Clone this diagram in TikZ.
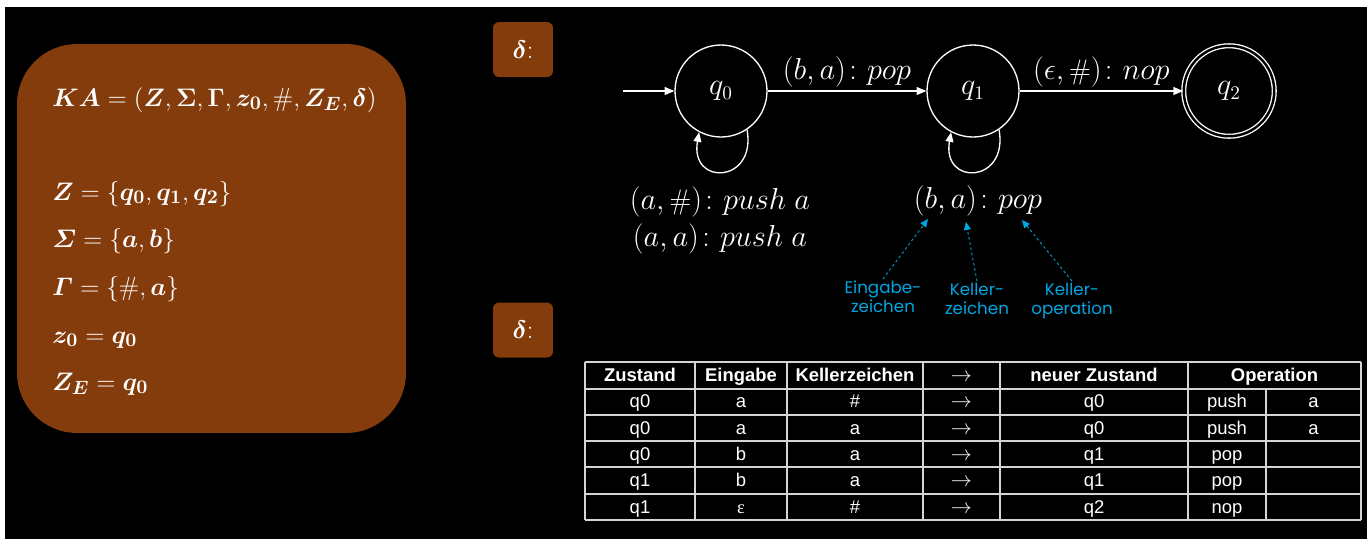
\documentclass[tikz,border=0pt]{standalone}
\usepackage{amsmath,amssymb}
\usepackage{bm}
\usepackage{xcolor}
\definecolor{kabrown}{HTML}{843C0C}
\definecolor{kablue}{HTML}{00A6E2}
\definecolor{kagrid}{HTML}{D4D4D4}
\usepackage{fontspec}
\newfontfamily\tabfont{Liberation Sans}
\newfontfamily\tabserif{Liberation Serif}
\newfontfamily\notefont{Poppins}
\usepackage{tikz}
\usetikzlibrary{arrows.meta,positioning,calc}

\begin{document}
\begin{tikzpicture}[x=0.02cm,y=0.02cm,
  state/.style={draw=white,circle,line width=0.75pt,minimum size=1.84cm,inner sep=0pt,text=white,font=\fontsize{16}{18}\selectfont},
  final/.style={state,double=black,double distance=1.4pt,minimum size=1.81cm},
  trans/.style={draw=white,line width=0.75pt,-{Triangle[length=5.5pt,width=4.5pt]}},
  lbl/.style={text=white,inner sep=2pt,font=\fontsize{16}{21}\selectfont},
  deltabox/.style={fill=kabrown,rounded corners=3.5pt,minimum width=1.2cm,minimum height=1.1cm,text=white,font=\fontsize{15}{18}\selectfont},
  boxtxt/.style={text=white,inner sep=0pt,anchor=base west,font=\fontsize{15}{18}\selectfont},
  note/.style={text=kablue,align=center,inner sep=1pt,font=\notefont\fontsize{9.5}{10.8}\selectfont},
  hint/.style={draw=kablue,line width=0.5pt,dash pattern=on 1.5pt off 1.5pt,-{Triangle[length=4.5pt,width=4pt]}},
  grid/.style={draw=kagrid,line width=0.8pt},
  cell/.style={text=white,inner sep=0pt,text height=7.5pt,text depth=0.5pt,font=\tabfont\fontsize{10.5}{12}\selectfont},
  head/.style={cell,font=\tabfont\bfseries\fontsize{10.5}{12}\selectfont}]

\useasboundingbox (0,0) rectangle (1370,-539);
\fill[white] (0,0) rectangle (1370,-539);
\fill[black] (5,-7) rectangle (1367,-539);

\node[fill=kabrown,rounded corners=1.2cm,minimum width=7.78cm,minimum height=7.78cm] (ka) at (211.5,-238.5) {};
\node[boxtxt] (kadef) at (52,-106) {$\bm{KA}=(\bm{Z},\bm{\Sigma},\bm{\Gamma},\bm{z_0},\#,\bm{Z_E},\bm{\delta})$};
\node[boxtxt] (zdef) at (52,-200) {$\bm{Z}=\{\bm{q_0},\bm{q_1},\bm{q_2}\}$};
\node[boxtxt] (sdef) at (52,-247) {$\bm{\varSigma}=\{\bm{a},\bm{b}\}$};
\node[boxtxt] (gdef) at (52,-295) {$\bm{\varGamma}=\{\#,\bm{a}\}$};
\node[boxtxt] (z0def) at (52,-343) {$\bm{z_0}=\bm{q_0}$};
\node[boxtxt] (zedef) at (52,-390) {$\bm{Z_E}=\bm{q_0}$};

\node[deltabox] (d1) at (523,-49.5) {$\bm{\delta}$:};
\node[deltabox] (d2) at (523,-330) {$\bm{\delta}$:};

\node[state] (q0) at (721,-91) {$q_0$};
\node[state] (q1) at (973,-91) {$q_1$};
\node[final] (q2) at (1229,-91) {$q_2$};
\coordinate (start) at (623,-91);

\draw[trans] (start) -- (q0);
\draw[trans] (q0) -- node[lbl,above] {$(b,a)\colon pop$} (q1);
\draw[trans] (q1) -- node[lbl,above] {$(\epsilon,\#)\colon nop$} (q2);
\draw[trans] (q0.-56) .. controls +(-80:55) and +(-100:55) .. (q0.-118);
\draw[trans] (q1.-56) .. controls +(-80:55) and +(-100:55) .. (q1.-118);

\node[lbl,align=center] (l0) at (720,-220) {$(a,\#)\colon push\ a$\\$(a,a)\colon push\ a$};
\node[lbl] (l1) at (978,-201) {$(b,a)\colon pop$};

\node[note] (ein) at (883,-297) {Eingabe-\\zeichen};
\node[note] (kz) at (977,-299) {Keller-\\zeichen};
\node[note] (kop) at (1072,-301) {Keller-\\operation};
\coordinate (tipin) at (928,-219);
\coordinate (tipst) at (966,-222);
\coordinate (tipop) at (1022,-220);
\draw[hint] (ein.north) -- (tipin);
\draw[hint] (kz.north) -- (tipst);
\draw[hint] (kop.north) -- (tipop);

\foreach \y in {362,389,415,441,467,494,520}
  \draw[grid] (585,-\y) -- (1361,-\y);
\foreach \x in {585,695,787,923,1000,1188,1361}
  \draw[grid] (\x,-362) -- (\x,-520);
\draw[grid] (1266,-389) -- (1266,-520);

\node[head] (h1) at (640,-375.5) {Zustand};
\node[head] (h2) at (741,-375.5) {Eingabe};
\node[head] (h3) at (855,-375.5) {Kellerzeichen};
\node[cell,font=\fontsize{12}{12}\selectfont] (h4) at (961.5,-375.5) {$\rightarrow$};
\node[head] (h5) at (1094,-375.5) {neuer Zustand};
\node[head] (h6) at (1274.5,-375.5) {Operation};

\foreach \z/\e/\k/\n/\o/\s [count=\r] in
  {q0/a/\#/q0/push/a, q0/a/a/q0/push/a, q0/b/a/q1/pop/, q1/b/a/q1/pop/, q1/{\tabserif ε}/\#/q2/nop/}{
  \pgfmathsetmacro{\ry}{-375.5-26.3*\r}
  \node[cell] (z\r) at (640,\ry) {\z};
  \node[cell] (e\r) at (741,\ry) {\e};
  \node[cell] (k\r) at (855,\ry) {\k};
  \node[cell,font=\fontsize{12}{12}\selectfont] (a\r) at (961.5,\ry) {$\rightarrow$};
  \node[cell] (n\r) at (1094,\ry) {\n};
  \node[cell] (o\r) at (1227,\ry) {\o};
  \node[cell] (s\r) at (1313.5,\ry) {\s};
}
\end{tikzpicture}
\end{document}
